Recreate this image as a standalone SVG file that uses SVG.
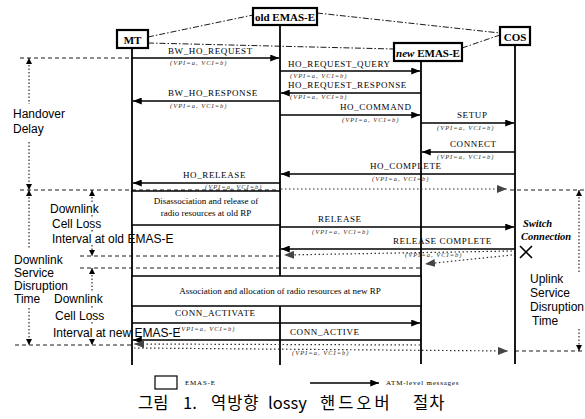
<svg xmlns="http://www.w3.org/2000/svg" width="585" height="419" viewBox="0 0 585 419">
<style>
.lbl{font-family:'Liberation Serif',serif;font-size:9px;letter-spacing:0.6px;fill:#000}
.sub{font-family:'Liberation Serif',serif;font-size:6.5px;font-style:italic;letter-spacing:1px;fill:#333}
.ann{font-family:'Liberation Sans',Arial,sans-serif;font-size:12px;fill:#000}
.box{fill:#fff;stroke:#000;stroke-width:2.2}
.bt{font-family:'Liberation Serif',serif;font-weight:bold;font-size:11px;text-anchor:middle;fill:#000}
.life{stroke:#000;stroke-width:1.8}
.msg{stroke:#000;stroke-width:1.3;fill:none;marker-end:url(#ah)}
.df{stroke:#333;stroke-width:1.2;stroke-dasharray:1.5 2.5;fill:none;marker-end:url(#da)}
.bd{stroke:#000;stroke-width:0.9;stroke-dasharray:4 3}
.va{stroke:#000;stroke-width:1;stroke-dasharray:1.5 2}
.tl{stroke:#000;stroke-width:0.9;stroke-dasharray:6 2 1.5 2;fill:none}
.pbox{fill:#fff;stroke:#000;stroke-width:1.5}
.ptxt{font-family:'Liberation Serif',serif;font-size:9px;text-anchor:middle;fill:#000}
.sw{font-family:'Liberation Serif',serif;font-size:10.5px;font-weight:bold;font-style:italic;fill:#000}
.leg{font-family:'Liberation Serif',serif;font-size:7px;letter-spacing:0.8px;fill:#000}
.cap{font-family:'Noto Sans CJK KR','Noto Sans',sans-serif;font-size:16.5px;fill:#000}
</style>
<defs>
<marker id="ah" viewBox="0 0 10 8" refX="10" refY="4" markerWidth="9" markerHeight="7" markerUnits="userSpaceOnUse" orient="auto"><path d="M0,0 L10,4 L0,8 z" fill="#000"/></marker>
<marker id="da" viewBox="0 0 10 8" refX="10" refY="4" markerWidth="10" markerHeight="8" markerUnits="userSpaceOnUse" orient="auto"><path d="M0,0 L10,4 L0,8 z" fill="#444"/></marker>
<marker id="sa" viewBox="0 0 8 8" refX="8" refY="4" markerWidth="6" markerHeight="6" markerUnits="userSpaceOnUse" orient="auto-start-reverse"><path d="M0,0 L8,4 L0,8 z" fill="#000"/></marker>
</defs>
<rect width="585" height="419" fill="#fff"/>

<g id="lifelines">
<line class="life" x1="132" y1="48" x2="132" y2="365"/>
<line class="life" x1="280" y1="25" x2="280" y2="365"/>
<line class="life" x1="421" y1="61" x2="421" y2="364"/>
<line class="life" x1="515" y1="45" x2="515" y2="364"/>
</g>

<g id="topology">
<line class="tl" x1="148" y1="37" x2="253" y2="15"/>
<line class="tl" x1="148" y1="43" x2="394" y2="49"/>
<line class="tl" x1="317" y1="13" x2="500" y2="33"/>
<line class="tl" x1="462" y1="48" x2="500" y2="35"/>
</g>

<g id="node-mt"><rect class="box" x="117" y="30" width="31" height="18" stroke-width="1.8"/><text class="bt" x="132.5" y="43.5" font-size="12">MT</text></g>
<g id="node-old-emas"><rect class="box" x="253" y="8" width="64" height="17" stroke-width="2.5"/><text class="bt" x="285" y="21">old EMAS-E</text></g>
<g id="node-new-emas"><rect class="box" x="394" y="43" width="68" height="18" stroke-width="2.5"/><text class="bt" x="428" y="56.5"><tspan font-style="italic">new</tspan> EMAS-E</text></g>
<g id="node-cos"><rect class="box" x="500" y="27" width="30" height="18" stroke-width="1.5"/><text class="bt" x="515" y="41">COS</text></g>

<g id="node-disassoc"><rect class="pbox" x="132" y="191" width="148" height="34"/>
<text class="ptxt" x="206" y="204">Disassociation and release of</text>
<text class="ptxt" x="206" y="216">radio resources at old RP</text></g>
<g id="node-assoc"><rect class="pbox" x="132" y="276" width="289" height="30"/>
<text class="ptxt" x="280" y="294">Association and allocation of radio resources at new RP</text></g>

<g id="boundaries">
<line class="bd" x1="20" y1="58" x2="132" y2="58"/>
<line class="bd" x1="20" y1="190" x2="280" y2="190"/>
<line class="bd" x1="510" y1="190" x2="585" y2="190"/>
<line class="bd" x1="80" y1="256" x2="282" y2="256"/>
<line class="bd" x1="80" y1="268" x2="421" y2="268"/>
<line class="bd" x1="15" y1="345" x2="132" y2="345"/>
<line class="bd" x1="515" y1="351" x2="585" y2="351"/>
</g>

<g id="intervals">
<line class="va" x1="29" y1="58" x2="29" y2="104" marker-start="url(#sa)"/>
<line class="va" x1="29" y1="142" x2="29" y2="190" marker-end="url(#sa)"/>
<line class="va" x1="29" y1="190" x2="29" y2="249" marker-start="url(#sa)"/>
<line class="va" x1="29" y1="308" x2="29" y2="345" marker-end="url(#sa)"/>
<line class="va" x1="92" y1="190" x2="92" y2="203" marker-start="url(#sa)"/>
<line class="va" x1="92" y1="215" x2="92" y2="218"/>
<line class="va" x1="92" y1="230" x2="92" y2="233"/>
<line class="va" x1="92" y1="245" x2="92" y2="256" marker-end="url(#sa)"/>
<line class="va" x1="92" y1="268" x2="92" y2="292" marker-start="url(#sa)"/>
<line class="va" x1="92" y1="306" x2="92" y2="309"/>
<line class="va" x1="92" y1="322" x2="92" y2="325"/>
<line class="va" x1="92" y1="339" x2="92" y2="345" marker-end="url(#sa)"/>
<line class="va" x1="579" y1="190" x2="579" y2="272" marker-start="url(#sa)"/>
<line class="va" x1="579" y1="329" x2="579" y2="351" marker-end="url(#sa)"/>
</g>

<g id="connectors">
<line class="msg" x1="132" y1="58" x2="279" y2="58"/>
<line class="msg" x1="280" y1="71" x2="420" y2="71"/>
<line class="msg" x1="421" y1="93" x2="281" y2="93"/>
<line class="msg" x1="280" y1="101" x2="133" y2="101"/>
<line class="msg" x1="280" y1="115" x2="420" y2="115"/>
<line class="msg" x1="421" y1="123" x2="514" y2="123"/>
<line class="msg" x1="515" y1="152" x2="422" y2="152"/>
<line class="msg" x1="515" y1="174" x2="281" y2="174"/>
<line class="msg" x1="280" y1="183" x2="133" y2="183"/>
<line class="msg" x1="280" y1="227" x2="514" y2="227"/>
<line class="msg" x1="515" y1="249" x2="281" y2="249"/>
<line class="msg" x1="132" y1="323" x2="420" y2="323"/>
<line class="msg" x1="421" y1="340" x2="133" y2="340"/>
<line class="df" x1="281" y1="189" x2="507" y2="189"/>
<line class="df" x1="512" y1="251" x2="284" y2="255"/>
<line class="df" x1="512" y1="255" x2="425" y2="264"/>
<line class="df" x1="420" y1="345" x2="134" y2="344"/>
<line class="df" x1="134" y1="348" x2="508" y2="351"/>
<path d="M520,246 L532,258 M532,246 L520,258" stroke="#000" stroke-width="1.6" fill="none"/>
</g>

<g id="labels">
<text class="lbl" x="168" y="54">BW_HO_REQUEST</text>
<text class="sub" x="170" y="65">(VPI=a, VCI=b)</text>
<text class="lbl" x="288" y="67">HO_REQUEST_QUERY</text>
<text class="sub" x="290" y="78">(VPI=a, VCI=b)</text>
<text class="lbl" x="288" y="88">HO_REQUEST_RESPONSE</text>
<text class="sub" x="290" y="99">(VPI=a, VCI=b)</text>
<text class="lbl" x="168" y="96">BW_HO_RESPONSE</text>
<text class="sub" x="170" y="108">(VPI=a, VCI=b)</text>
<text class="lbl" x="340" y="110">HO_COMMAND</text>
<text class="sub" x="342" y="122">(VPI=a, VCI=b)</text>
<text class="lbl" x="457" y="118">SETUP</text>
<text class="sub" x="437" y="130">(VPI=a, VCI=b)</text>
<text class="lbl" x="450" y="147">CONNECT</text>
<text class="sub" x="437" y="159">(VPI=a, VCI=b)</text>
<text class="lbl" x="370" y="169">HO_COMPLETE</text>
<text class="sub" x="372" y="181">(VPI=a, VCI=b)</text>
<text class="lbl" x="183" y="178">HO_RELEASE</text>
<text class="sub" x="205" y="188.5">(VPI=a, VCI=b)</text>
<text class="lbl" x="318" y="222">RELEASE</text>
<text class="sub" x="312" y="234">(VPI=a, VCI=b)</text>
<text class="lbl" x="393" y="244">RELEASE COMPLETE</text>
<text class="sub" x="405" y="257">(VPI=a, VCI=b)</text>
<text class="lbl" x="175" y="316">CONN_ACTIVATE</text>
<text class="sub" x="178" y="331">(VPI=a, VCI=b)</text>
<text class="lbl" x="290" y="335">CONN_ACTIVE</text>
<text class="sub" x="292" y="355">(VPI=a, VCI=b)</text>
<text class="sw" x="523" y="227">Switch</text>
<text class="sw" x="521" y="240">Connection</text>
</g>

<g id="annotations">
<text class="ann" x="13" y="118">Handover</text>
<text class="ann" x="13" y="133">Delay</text>
<text class="ann" x="50" y="213">Downlink</text>
<text class="ann" x="52" y="228">Cell Loss</text>
<text class="ann" x="52" y="243">Interval at old EMAS-E</text>
<text class="ann" x="14" y="264">Downlink</text>
<text class="ann" x="14" y="277">Service</text>
<text class="ann" x="14" y="290">Disruption</text>
<text class="ann" x="14" y="303">Time</text>
<text class="ann" x="54" y="303">Downlink</text>
<text class="ann" x="55" y="320">Cell Loss</text>
<text class="ann" x="53" y="337">Interval at new EMAS-E</text>
<text class="ann" x="530" y="283">Uplink</text>
<text class="ann" x="530" y="297">Service</text>
<text class="ann" x="530" y="311">Disruption</text>
<text class="ann" x="532" y="325">Time</text>
</g>

<g id="legend">
<rect x="155" y="376" width="22" height="13" fill="#fff" stroke="#000" stroke-width="1.2"/>
<text class="leg" x="185" y="385">EMAS-E</text>
<line class="msg" x1="310" y1="383" x2="379" y2="383" stroke-width="1"/>
<text class="leg" x="386" y="385" letter-spacing="0.3">ATM-level messages</text>
</g>

<text class="cap" y="409"><tspan x="138">그림</tspan><tspan x="183">1.</tspan><tspan x="211" letter-spacing="1">역방향</tspan><tspan x="268">lossy</tspan><tspan x="320" letter-spacing="3">핸드오버</tspan><tspan x="413" letter-spacing="1">절차</tspan></text>
</svg>
